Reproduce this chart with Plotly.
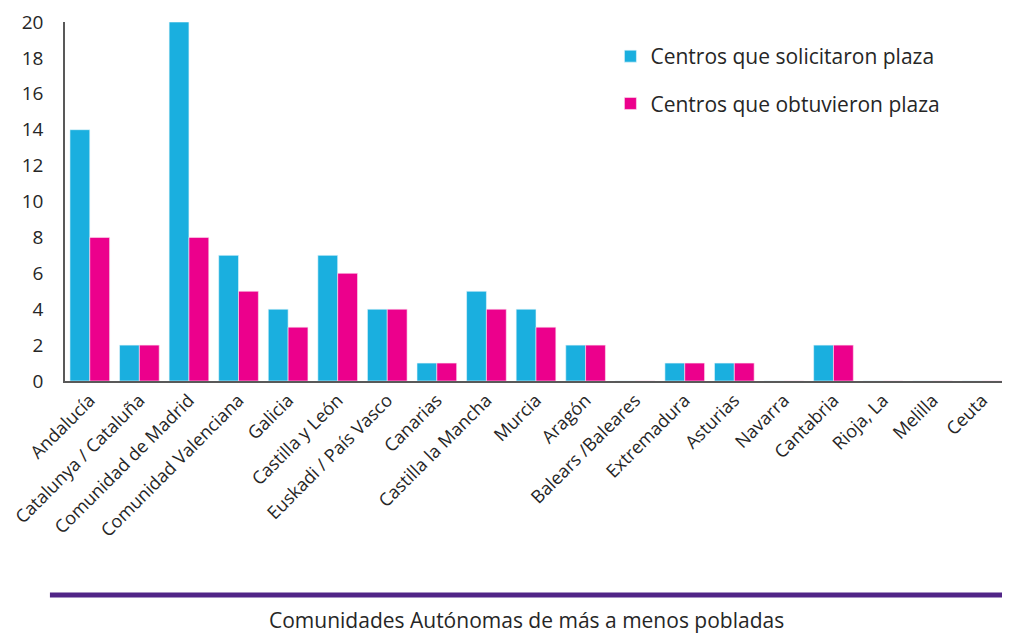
import plotly.graph_objects as go

categorias = ["Andalucía", "Catalunya / Cataluña", "Comunidad de Madrid", "Comunidad Valenciana",
              "Galicia", "Castilla y León", "Euskadi / País Vasco", "Canarias", "Castilla la Mancha",
              "Murcia", "Aragón", "Balears /Baleares", "Extremadura", "Asturias", "Navarra",
              "Cantabria", "Rioja, La", "Melilla", "Ceuta"]
solicitaron = [14, 2, 20, 7, 4, 7, 4, 1, 5, 4, 2, 0, 1, 1, 0, 2, 0, 0, 0]
obtuvieron = [8, 2, 8, 5, 3, 6, 4, 1, 4, 3, 2, 0, 1, 1, 0, 2, 0, 0, 0]
y_ticks = list(range(0, 21, 2))

FONT = "Open Sans"
TXT = "#262626"

fig = go.Figure()
fig.add_trace(go.Bar(x=categorias, y=solicitaron, name="Centros que solicitaron plaza",
                     marker=dict(color="#1AAFDF", line=dict(color="#E8F6FC", width=0.6)),
                     legendgroup="a"))
fig.add_trace(go.Bar(x=categorias, y=obtuvieron, name="Centros que obtuvieron plaza",
                     marker=dict(color="#EC008C", line=dict(color="#FCE6F2", width=0.6)),
                     legendgroup="b"))

# page body has an 8px default margin; size the figure so the plot lands where the reference's does
fig.update_layout(
    width=1002, height=627,
    margin=dict(l=57, r=3, t=14, b=254, autoexpand=False),
    paper_bgcolor="white", plot_bgcolor="white",
    barmode="group", bargap=0.2, bargroupgap=0,
    font=dict(family=FONT, color=TXT),
    showlegend=True,
    legend=dict(x=0.579, y=0.961, xanchor="left", yanchor="top",
                font=dict(size=21, family=FONT, color=TXT),
                traceorder="grouped", tracegroupgap=17,
                bgcolor="rgba(0,0,0,0)", itemwidth=30),
    xaxis=dict(tickangle=-45, tickfont=dict(size=18, family=FONT, color=TXT),
               showline=True, linecolor="#595959", linewidth=1.5, ticks="",
               showgrid=False, range=[-0.5, 18.5]),
    yaxis=dict(range=[0, 20], tickvals=y_ticks, tickfont=dict(size=19, family=FONT, color=TXT),
               showline=True, linecolor="#595959", linewidth=1.5, showgrid=False,
               zeroline=False, ticks="", ticklabelstandoff=16),
    shapes=[dict(type="line", xref="paper", yref="paper", x0=-0.016, x1=1.002,
                 y0=-0.596, y1=-0.596, line=dict(color="#512587", width=5))],
    annotations=[dict(text="Comunidades Autónomas de más a menos pobladas", xref="paper", yref="paper",
                      x=0.49, y=-0.666, showarrow=False, font=dict(size=21, family=FONT, color=TXT),
                      xanchor="center", yanchor="middle")],
)

fig.write_html("out.html")
